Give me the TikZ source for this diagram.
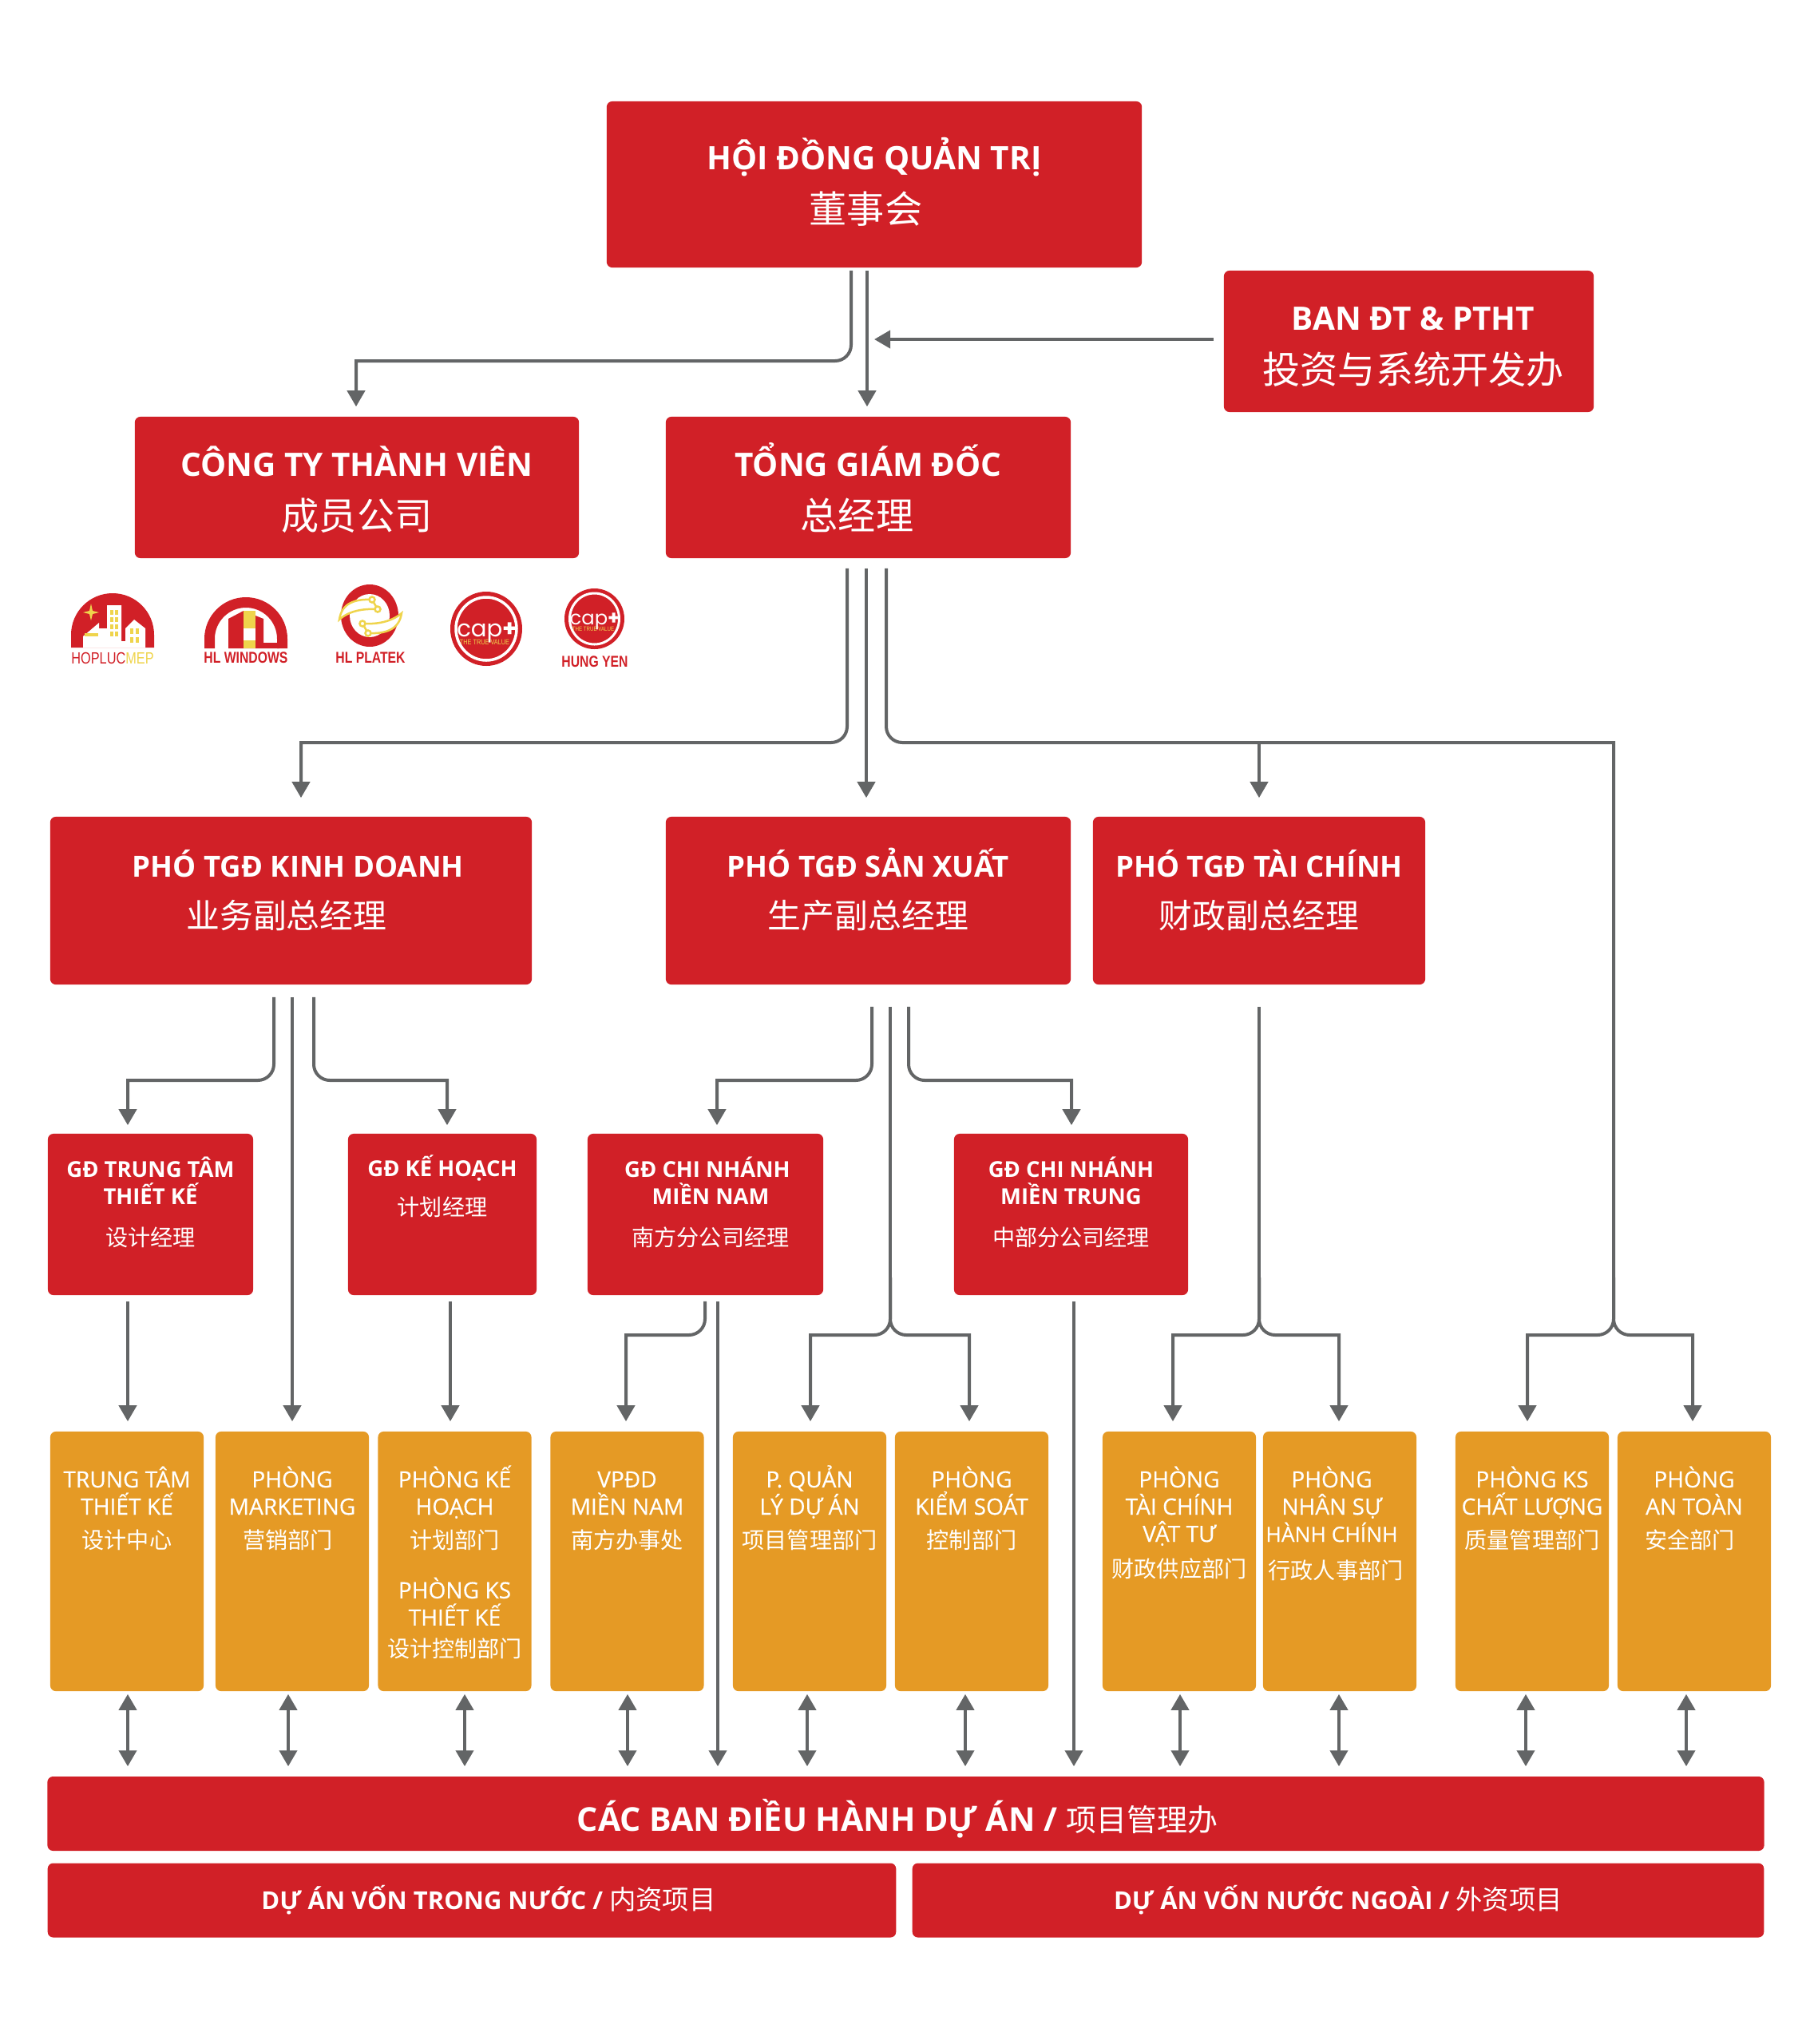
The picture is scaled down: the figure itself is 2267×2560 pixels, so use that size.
\documentclass[tikz,border=0pt]{standalone}
\usepackage{fontspec}
\usetikzlibrary{arrows.meta}
\setmainfont{Open Sans}
\newfontfamily\medfont[FakeBold=0.4]{Open Sans}
\newfontfamily\cjk{Noto Sans CJK SC}
\newfontfamily\logofont[FakeStretch=0.8]{Liberation Sans}
\newfontfamily\capfont{Poppins}
\definecolor{hlred}{HTML}{D12027}
\definecolor{hlorg}{HTML}{E59A25}
\definecolor{hlln}{HTML}{636566}
\definecolor{hlyel}{HTML}{EFD44C}
\newcommand{\zhA}[1]{{\cjk\mdseries\fontsize{13.4}{18}\selectfont #1}}
\newcommand{\zhB}[1]{{\cjk\mdseries\fontsize{11.9}{18}\selectfont #1}}
\newcommand{\zhC}[1]{{\cjk\mdseries\fontsize{8}{10}\selectfont #1}}
\newcommand{\zhD}[1]{{\cjk\mdseries\fontsize{10.8}{14}\selectfont #1}}
\newcommand{\zhE}[1]{{\cjk\mdseries\fontsize{9.5}{14}\selectfont #1}}
\newcommand{\orgtxt}[1]{\parbox[c][3.25cm][t]{1.92cm}{\centering\rule{0pt}{19.9pt}#1}}
\begin{document}
\begin{tikzpicture}[
    x=0.01cm, y=-0.01cm,
    every node/.style={text=white, inner sep=0pt},
    redb/.style={fill=hlred, rounded corners=.07cm, align=center, font=\bfseries, text depth=0pt},
    lvA/.style={redb, font=\fontsize{11.5}{19}\selectfont\bfseries, text height=1.05cm},
    lvB/.style={redb, font=\fontsize{10.4}{18}\selectfont\bfseries, text height=.68cm},
    lvC/.style={redb, font=\fontsize{7.8}{9.7}\selectfont\bfseries, text height=.78cm},
    org/.style={fill=hlorg, rounded corners=.07cm, minimum width=1.92cm, minimum height=3.25cm,
                font=\medfont\fontsize{8}{9.7}\selectfont},
    barb/.style={redb, minimum height=.93cm},
    e/.style={-{Triangle[length=.2cm,width=.22cm]}, draw=hlln, line width=.04cm, shorten >=.12cm},
    ee/.style={e, {Triangle[length=.2cm,width=.22cm]}-{Triangle[length=.2cm,width=.22cm]},
               shorten <=.03cm},
    ln/.style={draw=hlln, line width=.04cm},
    rc/.style={rounded corners=.2cm},
    lg/.style={text=hlred, font=\logofont\bfseries\fontsize{5.6}{6}\selectfont},
    win/.style={fill=hlyel},
    wire/.style={draw=hlyel, fill=white, line width=.025cm},
  ]
  \useasboundingbox (0,0) rectangle (2267,2560);

  % top levels
  \node[lvA, text height=.96cm, minimum width=6.7cm, minimum height=2.08cm] (board) at (1095,231)
    {HỘI ĐỒNG QUẢN TRỊ\\\hspace*{-6pt}\zhA{董事会}};
  \node[lvA, minimum width=4.63cm, minimum height=1.77cm] (ban) at (1764.5,427.5)
    {\hspace*{3.2pt}BAN ĐT \& PTHT\\\hspace*{3.2pt}\zhA{投资与系统开发办}};
  \node[lvA, minimum width=5.56cm, minimum height=1.77cm] (ctv) at (447,610.5)
    {CÔNG TY THÀNH VIÊN\\\zhA{成员公司}};
  \node[lvA, minimum width=5.07cm, minimum height=1.77cm] (tgd) at (1087.5,610.5)
    {TỔNG GIÁM ĐỐC\\\hspace*{-8pt}\zhA{总经理}};

  % deputies
  \node[lvB, minimum width=6.03cm, minimum height=2.1cm] (pkd) at (364.5,1128)
    {\hspace*{5pt}PHÓ TGĐ KINH DOANH\\\hspace*{-3.2pt}\zhB{业务副总经理}};
  \node[lvB, minimum width=5.07cm, minimum height=2.1cm] (psx) at (1087.5,1128)
    {PHÓ TGĐ SẢN XUẤT\\\zhB{生产副总经理}};
  \node[lvB, minimum width=4.16cm, minimum height=2.1cm] (ptc) at (1577,1128)
    {PHÓ TGĐ TÀI CHÍNH\\\zhB{财政副总经理}};

  % managers
  \node[lvC, minimum width=2.57cm, minimum height=2.02cm] (gdtk) at (188.5,1521)
    {GĐ TRUNG TÂM\\THIẾT KẾ\\[5pt]\zhC{设计经理}};
  \node[lvC, text height=.02cm, minimum width=2.36cm, minimum height=2.02cm] (gdkh) at (554,1521)
    {GĐ KẾ HOẠCH\\[4pt]\zhC{计划经理}};
  \node[lvC, minimum width=2.95cm, minimum height=2.02cm] (gdnam) at (883.5,1521)
    {\hspace*{1.4pt}GĐ CHI NHÁNH\\\hspace*{3.7pt}MIỀN NAM\\[5pt]\hspace*{3.7pt}\zhC{南方分公司经理}};
  \node[lvC, minimum width=2.93cm, minimum height=2.02cm] (gdtrung) at (1341.5,1521)
    {GĐ CHI NHÁNH\\MIỀN TRUNG\\[5pt]\zhC{中部分公司经理}};

  % departments
  \node[org] (ttk) at (159,1955.5) {\orgtxt{TRUNG TÂM\\THIẾT KẾ\\[2.4pt]\zhC{设计中心}}};
  \node[org] (mkt) at (366,1955.5) {\orgtxt{PHÒNG\\MARKETING\\[2.4pt]\hspace*{-3.2pt}\zhC{营销部门}}};
  \node[org] (kh) at (569.5,1955.5) {\orgtxt{PHÒNG KẾ\\HOẠCH\\[2.4pt]\zhC{计划部门}\\[8pt]PHÒNG KS\\THIẾT KẾ\\[1.6pt]\zhC{设计控制部门}}};
  \node[org] (vpdd) at (785.5,1955.5) {\orgtxt{VPĐD\\MIỀN NAM\\[2.4pt]\zhC{南方办事处}}};
  \node[org] (qlda) at (1014,1955.5) {\orgtxt{P. QUẢN\\LÝ DỰ ÁN\\[2.4pt]\zhC{项目管理部门}}};
  \node[org] (ksoat) at (1217,1955.5) {\orgtxt{PHÒNG\\KIỂM SOÁT\\[2.4pt]\zhC{控制部门}}};
  \node[org] (tcvt) at (1477,1955.5) {\orgtxt{PHÒNG\\TÀI CHÍNH\\VẬT TƯ\\[3pt]\zhC{财政供应部门}}};
  \node[org] (nshc) at (1678,1955.5) {\orgtxt{\hspace*{-5.7pt}PHÒNG\\\hspace*{-5.7pt}NHÂN SỰ\\\hspace*{-5.7pt}{\fontsize{7.5}{9.7}\selectfont HÀNH CHÍNH}\\[3.6pt]\hspace*{-2.8pt}\zhC{行政人事部门}}};
  \node[org] (cl) at (1919,1955.5) {\orgtxt{PHÒNG KS\\CHẤT LƯỢNG\\[2.4pt]\zhC{质量管理部门}}};
  \node[org] (at) at (2122,1955.5) {\orgtxt{PHÒNG\\AN TOÀN\\[2.4pt]\hspace*{-3.2pt}\zhC{安全部门}}};

  % bottom bars
  \node[barb, text height=.43cm, minimum width=21.49cm, font=\fontsize{11.7}{14}\selectfont\bfseries] (bdh) at (1134.5,2271.5)
    {\hspace*{-6pt}CÁC BAN ĐIỀU HÀNH DỰ ÁN / \zhD{项目管理办}};
  \node[barb, text height=.22cm, minimum width=10.62cm, font=\fontsize{8.8}{14}\selectfont\bfseries] (dtn) at (591,2380)
    {\hspace*{12pt}DỰ ÁN VỐN TRONG NƯỚC / \zhE{内资项目}};
  \node[barb, text height=.22cm, minimum width=10.66cm, font=\fontsize{8.8}{14}\selectfont\bfseries] (dnn) at (1676,2380)
    {DỰ ÁN VỐN NƯỚC NGOÀI / \zhE{外资项目}};

  % connectors from the board
  \draw[e, shorten <=.03cm] (1066,0 |- board.south) [rc] -- (1066,452) [sharp corners] -| (446,0 |- ctv.north);
  \draw[e, shorten <=.03cm] (1086,0 |- board.south) -- (1086,0 |- tgd.north);
  \draw[e, shorten <=.12cm, shorten >=.09cm] (ban.west |- 0,425) -- (1086,425);

  % connectors from the general director
  \draw[e, shorten <=.12cm, shorten >=.23cm] (1061,0 |- tgd.south) [rc] -- (1061,930) [sharp corners] -| (377,0 |- pkd.north);
  \draw[e, shorten <=.12cm, shorten >=.23cm] (1085,0 |- tgd.south) -- (1085,0 |- psx.north);
  \draw[ln, shorten <=.12cm] (1110,0 |- tgd.south) [rc] -- (1110,930) [sharp corners] -- (2021,930) -- (2021,1600);
  \draw[e, shorten >=.23cm] (1577,930) -- (1577,0 |- ptc.north);

  % connectors from the deputies
  \draw[e, shorten <=.15cm, shorten >=.1cm] (343,0 |- pkd.south) [rc] -- (343,1353) [sharp corners] -| (160,0 |- gdtk.north);
  \draw[e, shorten <=.15cm] (366,0 |- pkd.south) -- (366,0 |- mkt.north);
  \draw[e, shorten <=.15cm, shorten >=.1cm] (393,0 |- pkd.south) [rc] -- (393,1353) [sharp corners] -| (560,0 |- gdkh.north);
  \draw[e, shorten <=.27cm, shorten >=.1cm] (1092,0 |- psx.south) [rc] -- (1092,1353) [sharp corners] -| (898,0 |- gdnam.north);
  \draw[ln, shorten <=.27cm] (1115,0 |- psx.south) -- (1115,1600);
  \draw[e, shorten <=.27cm, shorten >=.1cm] (1138,0 |- psx.south) [rc] -- (1138,1353) [sharp corners] -| (1342,0 |- gdtrung.north);
  \draw[ln, shorten <=.27cm] (ptc.south) -- (1577,1600);

  % brackets over the departments
  \draw[e] (1115,1600) [rc] -- (1115,1672) [sharp corners] -| (1015,0 |- qlda.north);
  \draw[e] (1115,1600) [rc] -- (1115,1672) [sharp corners] -| (1214,0 |- ksoat.north);
  \draw[e] (1577,1600) [rc] -- (1577,1672) [sharp corners] -| (1469,0 |- tcvt.north);
  \draw[e] (1577,1600) [rc] -- (1577,1672) [sharp corners] -| (1677,0 |- nshc.north);
  \draw[e] (2021,1600) [rc] -- (2021,1672) [sharp corners] -| (1913,0 |- cl.north);
  \draw[e] (2021,1600) [rc] -- (2021,1672) [sharp corners] -| (2120,0 |- at.north);

  % connectors from the managers
  \draw[e, shorten <=.07cm] (160,0 |- gdtk.south) -- (160,0 |- ttk.north);
  \draw[e, shorten <=.07cm] (564,0 |- gdkh.south) -- (564,0 |- kh.north);
  \draw[e, shorten <=.07cm] (883,0 |- gdnam.south) [rc] -- (883,1672) [sharp corners] -| (784,0 |- vpdd.north);
  \draw[e, shorten <=.07cm] (899,0 |- gdnam.south) -- (899,0 |- bdh.north);
  \draw[e, shorten <=.07cm] (1345,0 |- gdtrung.south) -- (1345,0 |- bdh.north);

  % departments to project boards
  \draw[ee] (160,0 |- ttk.south) -- (160,0 |- bdh.north);
  \draw[ee] (361,0 |- mkt.south) -- (361,0 |- bdh.north);
  \draw[ee] (582,0 |- kh.south) -- (582,0 |- bdh.north);
  \draw[ee] (786,0 |- vpdd.south) -- (786,0 |- bdh.north);
  \draw[ee] (1011,0 |- qlda.south) -- (1011,0 |- bdh.north);
  \draw[ee] (1209,0 |- ksoat.south) -- (1209,0 |- bdh.north);
  \draw[ee] (1478,0 |- tcvt.south) -- (1478,0 |- bdh.north);
  \draw[ee] (1677,0 |- nshc.south) -- (1677,0 |- bdh.north);
  \draw[ee] (1911,0 |- cl.south) -- (1911,0 |- bdh.north);
  \draw[ee] (2112,0 |- at.south) -- (2112,0 |- bdh.north);

  % logos
  \fill[hlred] (89,811) -- (89,795) arc[start angle=180, end angle=360, radius=52] -- (193,811) -- cycle;
  \fill[white] (104,811) -- (104,797) -- (124,780) -- (124,787) -- (134,787) -- (134,758) -- (152,758)
    -- (152,803) -- (157,803) -- (157,787) -- (168,776) -- (182,787) -- (182,811) -- cycle;
  \foreach \wx in {138,144} \foreach \wy in {764,773,782,791} \fill[win] (\wx,\wy) rectangle +(3.5,6);
  \foreach \wx in {163,170} \foreach \wy in {787,798} \fill[win] (\wx,\wy) rectangle +(4,7);
  \fill[win] (106,793) rectangle (123,797);
  \fill[win] (114,756) -- (116,765) -- (124,767) -- (116,769) -- (114,777) -- (112,769) -- (104,767) -- (112,765) -- cycle;
  \node[lg, font=\logofont\fontsize{5.8}{6}\selectfont] (lhop) at (141,824) {HOPLUC\textcolor{hlyel}{MEP}};
  \fill[hlred] (256,812) -- (256,800) arc[start angle=180, end angle=360, radius=52] -- (360,812) -- (347,812) -- (347,800) arc[start angle=360, end angle=180, radius=39] -- (269,812) -- cycle;
  \fill[hlred] (286,812) -- (286,775) -- (305,765) -- (330,775) -- (330,805) -- (350,805) -- (350,812) -- cycle;
  \fill[win] (305,765) rectangle (320,787);
  \fill[white] (305,787) rectangle (320,802);
  \fill[win] (305,802) rectangle (320,812);
  \node[lg] (lwin) at (308,824) {HL WINDOWS};
  \fill[hlred] (463,771) ellipse[x radius=36, y radius=39];
  \fill[white] (463,771) ellipse[x radius=25, y radius=27];
  \filldraw[wire] (425,776) .. controls (428,755) and (445,750) .. (466,751) -- (473,763) .. controls (455,762) and (437,765) .. (425,776) -- cycle;
  \filldraw[wire] (503,768) .. controls (500,789) and (482,794) .. (461,793) -- (454,781) .. controls (472,782) and (490,779) .. (503,768) -- cycle;
  \filldraw[wire] (466,751) circle[radius=3.5] (473,763) circle[radius=3.5] (454,781) circle[radius=3.5] (461,793) circle[radius=3.5];
  \node[lg] (lpla) at (464,824) {HL PLATEK};
  \fill[hlred] (609,787.5) circle[x radius=45, y radius=46.5];
  \draw[white, line width=.035cm] (609,787.5) circle[x radius=38, y radius=39.5];
  \node[font=\capfont\fontsize{8.3}{12}\selectfont] (lcap) at (610,792) {cap{\bfseries+}};
  \node[text=hlyel, font=\logofont\fontsize{2.6}{3}\selectfont] (lcapt) at (607,804) {THE TRUE VALUE};
  \fill[hlred] (744.5,775) circle[x radius=37.5, y radius=38];
  \draw[white, line width=.03cm] (744.5,775) circle[x radius=31, y radius=32];
  \node[font=\capfont\fontsize{6.9}{10}\selectfont] (lhy) at (745,778) {cap{\bfseries+}};
  \node[text=hlyel, font=\logofont\fontsize{2.2}{3}\selectfont] (lhyt) at (743,788) {THE TRUE VALUE};
  \node[lg] (lyen) at (745,829) {HUNG YEN};
\end{tikzpicture}
\end{document}
